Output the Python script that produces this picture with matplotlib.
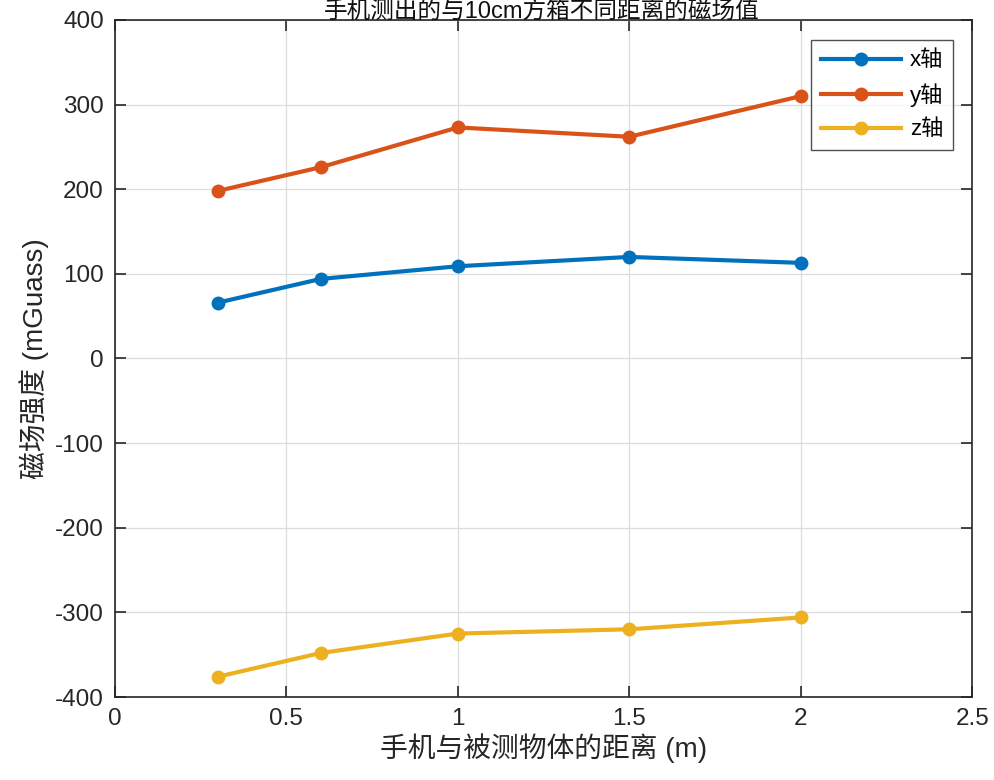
import matplotlib
matplotlib.use("Agg")
import matplotlib.pyplot as plt

plt.rcParams['font.family'] = ['Liberation Sans', 'Noto Sans CJK SC', 'DejaVu Sans']
plt.rcParams['axes.unicode_minus'] = False

# distance (m)
dist = [0.3, 0.6, 1.0, 1.5, 2.0]
# field strength (mGuass)
bx = [66, 94, 109, 120, 113]
by = [198, 226, 273, 262, 310]
bz = [-376, -348, -325, -320, -306]

xticks = [0, 0.5, 1, 1.5, 2, 2.5]
xticklabels = ["0", "0.5", "1", "1.5", "2", "2.5"]
yticks = [-400, -300, -200, -100, 0, 100, 200, 300, 400]

fig = plt.figure(figsize=(9.94, 7.8), dpi=100)
ax = fig.add_axes([0.1157, 0.1064, 0.8623, 0.868])

ax.plot(dist, bx, color="#0072BD", lw=3, marker="o", ms=9, label="x轴")
ax.plot(dist, by, color="#D95319", lw=3, marker="o", ms=9, label="y轴")
ax.plot(dist, bz, color="#EDB120", lw=3, marker="o", ms=9, label="z轴")

ax.set_xlim(0, 2.5)
ax.set_ylim(-400, 400)
ax.set_xticks(xticks)
ax.set_xticklabels(xticklabels)
ax.set_yticks(yticks)
ax.grid(True, color="#dcdcdc", lw=0.9)
ax.tick_params(direction="in", length=8, width=1.2, labelsize=17.5,
               top=True, right=True, colors="#262626", pad=8)
for s in ax.spines.values():
    s.set_color("#262626")
    s.set_linewidth(1.2)

ax.set_xlabel("手机与被测物体的距离 (m)", fontsize=20, color="#262626", labelpad=2)
ax.set_ylabel("磁场强度 (mGuass)", fontsize=20, color="#262626", labelpad=4)
fig.text(0.545, 0.999, "手机测出的与10cm方箱不同距离的磁场值", fontsize=17,
         ha="center", va="top", color="#111111")

leg = ax.legend(loc="upper right", fontsize=16, handlelength=3.6, borderpad=0.45,
                labelspacing=0.55, handletextpad=0.4, borderaxespad=0, fancybox=False,
                bbox_to_anchor=(0.978, 0.970))
leg.get_frame().set_edgecolor("#262626")
leg.get_frame().set_linewidth(1.0)

fig.savefig("out.png", dpi=100)
